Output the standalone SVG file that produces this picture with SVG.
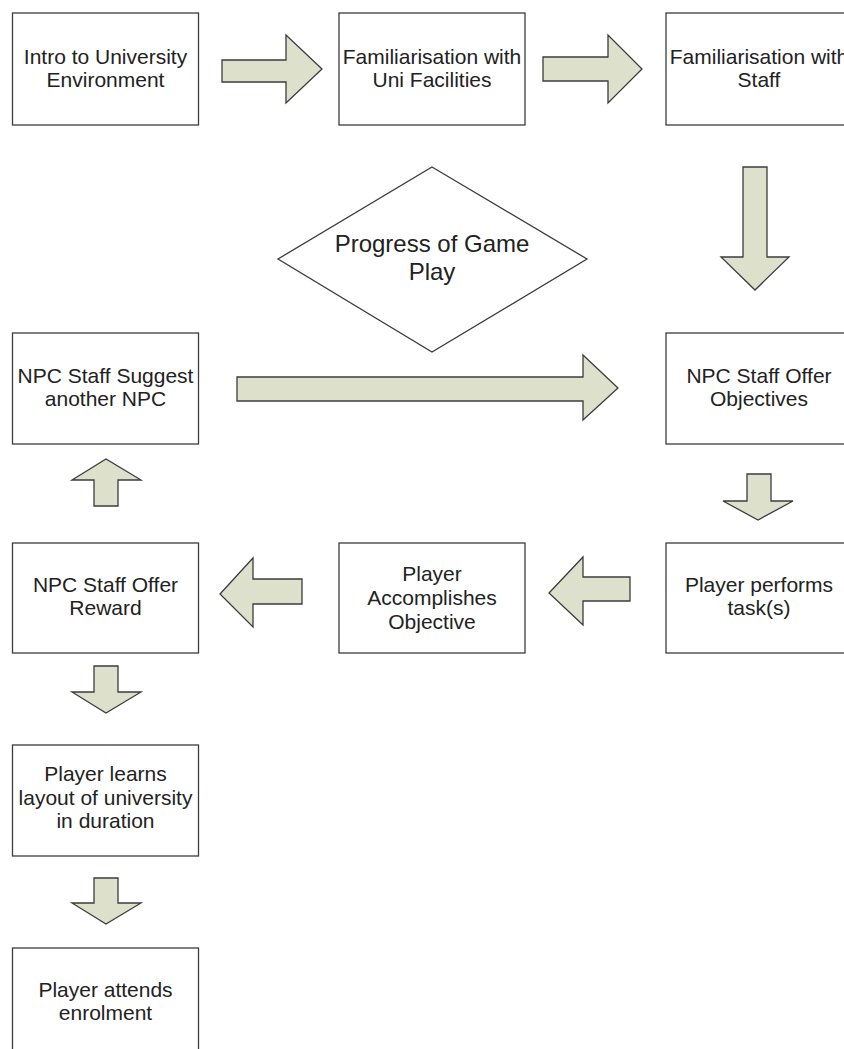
<svg xmlns="http://www.w3.org/2000/svg" width="844" height="1049" viewBox="0 0 844 1049">
<style>
.box{fill:#ffffff;stroke:#3c3c3c;stroke-width:1.3}
.arr{fill:#dde1cb;stroke:#3c3c3c;stroke-width:1.3;stroke-linejoin:miter}
.t{font-family:"Liberation Sans",Arial,sans-serif;font-size:21px;fill:#222222;text-anchor:middle}
.td{font-family:"Liberation Sans",Arial,sans-serif;font-size:24px;fill:#222222;text-anchor:middle}
</style>
<rect width="844" height="1049" fill="#ffffff"/>
<g id="connectors">
<polygon class="arr" points="222,60 286,60 286,35 322,69 286,103 286,82 222,82"/>
<polygon class="arr" points="543,57 608,57 608,35 642,69 608,103 608,81 543,81"/>
<polygon class="arr" points="743,167 767,167 767,257 789,257 755,290 721,257 743,257"/>
<polygon class="arr" points="237,377 583,377 583,355 618,388 583,420 583,401 237,401"/>
<polygon class="arr" points="747,474 771,474 771,501 793,501 758,520 723,501 747,501"/>
<polygon class="arr" points="630,577 583,577 583,557 549,593 583,625 583,601 630,601"/>
<polygon class="arr" points="302,579 253,579 253,558 220,594 253,627 253,604 302,604"/>
<polygon class="arr" points="94,506 94,480 72,480 106,459 141,480 118,480 118,506"/>
<polygon class="arr" points="94,666 118,666 118,692 141,692 106,713 72,692 94,692"/>
<polygon class="arr" points="94,878 118,878 118,903 141,903 106,924 72,903 94,903"/>
</g>
<g id="n1"><rect class="box" x="12.5" y="13" width="186" height="112"/><text class="t" x="105.5" y="64">Intro to University</text><text class="t" x="105.5" y="87">Environment</text></g>
<g id="n2"><rect class="box" x="339" y="13" width="186" height="112"/><text class="t" x="432" y="64">Familiarisation with</text><text class="t" x="432" y="87">Uni Facilities</text></g>
<g id="n3"><rect class="box" x="666" y="13" width="186" height="112"/><text class="t" x="759" y="64">Familiarisation with</text><text class="t" x="759" y="87">Staff</text></g>
<g id="progress"><polygon class="box" points="432,167 587,259 432,352 278,259"/><text class="td" x="432" y="252">Progress of Game</text><text class="td" x="432" y="280">Play</text></g>
<g id="n4"><rect class="box" x="12.5" y="333" width="186" height="111"/><text class="t" x="105.5" y="383">NPC Staff Suggest</text><text class="t" x="105.5" y="406">another NPC</text></g>
<g id="n5"><rect class="box" x="666" y="333" width="186" height="111"/><text class="t" x="759" y="383">NPC Staff Offer</text><text class="t" x="759" y="406">Objectives</text></g>
<g id="n6"><rect class="box" x="12.5" y="543" width="186" height="110"/><text class="t" x="105.5" y="592">NPC Staff Offer</text><text class="t" x="105.5" y="615">Reward</text></g>
<g id="n7"><rect class="box" x="339" y="543" width="186" height="110"/><text class="t" x="432" y="581">Player</text><text class="t" x="432" y="605">Accomplishes</text><text class="t" x="432" y="629">Objective</text></g>
<g id="n8"><rect class="box" x="666" y="543" width="186" height="110"/><text class="t" x="759" y="592">Player performs</text><text class="t" x="759" y="615">task(s)</text></g>
<g id="n9"><rect class="box" x="12.5" y="745" width="186" height="111"/><text class="t" x="105.5" y="781">Player learns</text><text class="t" x="105.5" y="805">layout of university</text><text class="t" x="105.5" y="828">in duration</text></g>
<g id="n10"><rect class="box" x="12.5" y="948" width="186" height="111"/><text class="t" x="105.5" y="997">Player attends</text><text class="t" x="105.5" y="1020">enrolment</text></g>
</svg>
